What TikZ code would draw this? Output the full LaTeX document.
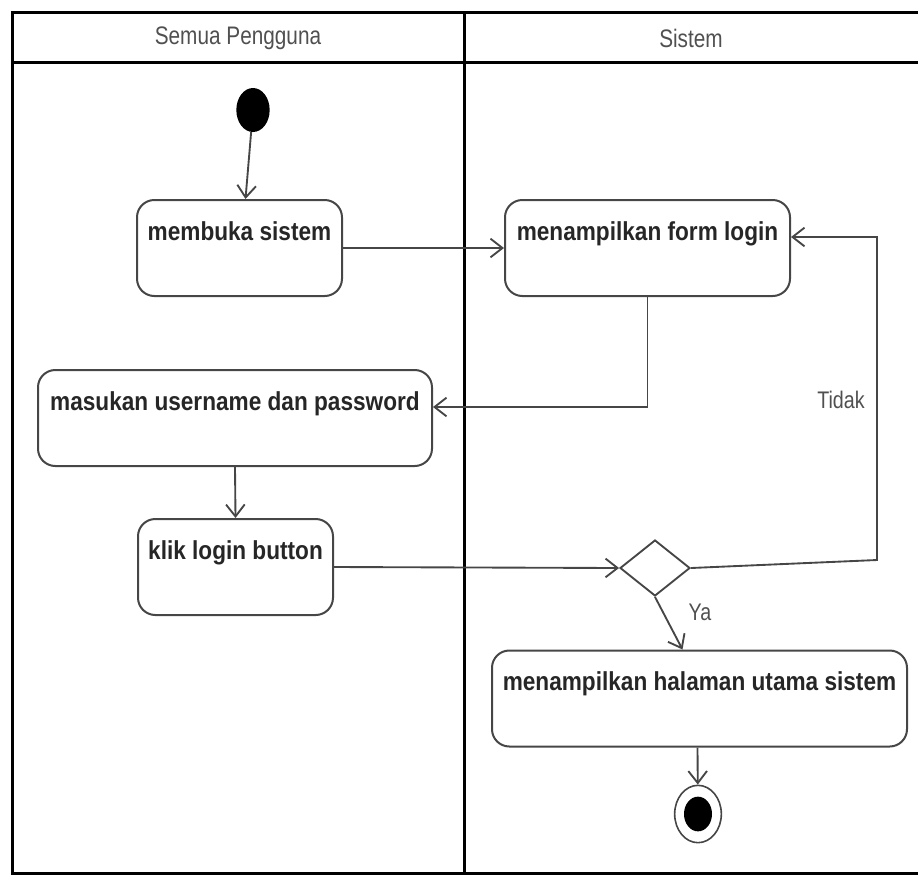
\documentclass[tikz,border=0pt]{standalone}
\usepackage{fontspec}
\setmainfont{Liberation Sans}
\newfontfamily\actfont[FakeStretch=0.87]{Liberation Sans}
\newfontfamily\lanefont[FakeStretch=0.82]{Liberation Sans}
\usetikzlibrary{arrows.meta,shapes.geometric,calc}

\definecolor{edgegray}{RGB}{70,70,70}
\definecolor{labelgray}{RGB}{80,80,80}

\tikzset{
  activity/.style={draw=edgegray, line width=1.5pt, rounded corners=13pt,
    inner xsep=0pt, inner ysep=0pt, text height=30pt, text depth=42pt,
    font=\actfont\bfseries\fontsize{19.5}{20}\selectfont, text=black!85},
  flow/.style={draw=edgegray, line width=1.4pt,
    -{Straight Barb[length=9pt,width=14pt,line width=1.4pt]}},
  lanehead/.style={font=\lanefont\fontsize{19}{20}\selectfont, text=labelgray},
  guard/.style={font=\lanefont\fontsize{18}{20}\selectfont, text=labelgray, inner sep=0pt},
}

\begin{document}
\begin{tikzpicture}[x=0.75pt, y=-0.75pt]
  \useasboundingbox (0,0) rectangle (918,876);

  %Swimlanes
  \begin{scope}[line width=2.25pt]
    \draw (918,12) -- (12,12) -- (12,873) -- (918,873);
    \draw (12,62) -- (918,62);
    \draw (464,12) -- (464,873);
  \end{scope}
  \node[lanehead] (lane1) at (238,38) {Semua Pengguna};
  \node[lanehead] (lane2) at (691,38) {Sistem};

  %Activities
  \begin{scope}[every node/.style={activity}]
    \node[minimum width=153.75pt] (membuka) at (239.5,248) {membuka sistem};
    \node[minimum width=213.75pt] (form) at (647.5,248) {menampilkan form login};
    \node[minimum width=295.5pt] (masukan) at (235,418) {masukan username dan password};
    \node[minimum width=146.25pt] (klik) at (235.5,567) {klik login button};
    \node[minimum width=311.25pt] (halaman) at (699.5,698.5) {menampilkan halaman utama sistem};
  \end{scope}

  %Control nodes
  \node[ellipse, fill=black, minimum width=25pt, minimum height=33pt, inner sep=0pt] (init) at (253,110) {};
  \node[diamond, draw=edgegray, line width=1.4pt, minimum width=52.5pt, minimum height=42pt, inner sep=0pt] (dec) at (655,568) {};
  \node[ellipse, draw=edgegray, line width=1.2pt, minimum width=35pt, minimum height=43pt, inner sep=0pt] (final) at (698,814) {};
  \node[ellipse, fill=black, minimum width=21pt, minimum height=26pt, inner sep=0pt] (finaldot) at (698,814) {};

  \coordinate (c1) at (877,560);
  \coordinate (c2) at (877,237);

  %Flows
  \draw[flow] (init) -- ($(membuka.north)+(6,0)$);
  \draw[flow] (membuka.east) -- (form.west);
  \draw[flow] (form.south) |- ($(masukan.east)+(0,-11)$);
  \draw[flow] (masukan.south) -- (klik.north);
  \draw[flow] (klik.east) -- (dec.west);
  \draw[flow] (dec.east) -- (c1) -- (c2) -- ($(form.east)+(0,-11)$);
  \draw[flow] (dec.south) -- ($(halaman.north)+(-17,0)$);
  \draw[flow] ($(halaman.south)+(-2,0)$) -- (final);

  \node[guard] (tidak) at (841,400) {Tidak};
  \node[guard] (ya) at (700,612) {Ya};
\end{tikzpicture}
\end{document}
